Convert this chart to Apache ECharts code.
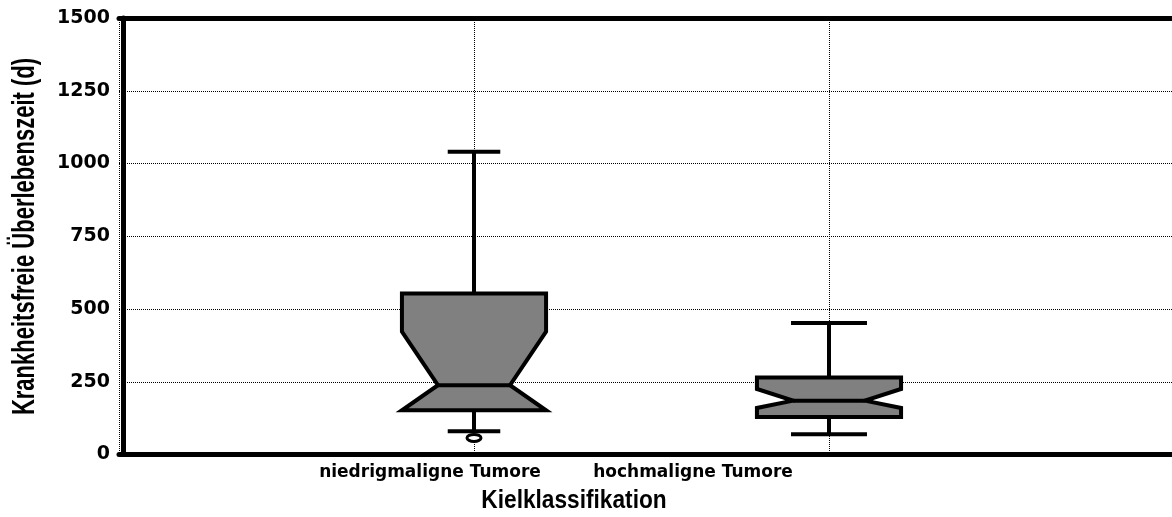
<!DOCTYPE html>
<html><head><meta charset="utf-8">
<script src="https://cdn.jsdelivr.net/npm/echarts@6/dist/echarts.min.js"></script>
<style>html,body{margin:0;padding:0;background:#fff}#c{width:1172px;height:517px}</style>
</head><body><div id="c"></div>
<script>
// ---- data ----
const categories = ['niedrigmaligne Tumore', 'hochmaligne Tumore'];
const whiskerLow = [80, 70];
const q1 = [152, 129];
const notchLow = [152, 160];
const median = [238, 185];
const notchHigh = [422, 225];
const q3 = [553, 265];
const whiskerHigh = [1040, 452];
const outliers = [[57], []];
const yTicks = [0, 250, 500, 750, 1000, 1250, 1500];
const xTitle = 'Kielklassifikation';
const yTitle = 'Krankheitsfreie Überlebenszeit (d)';

// ---- layout / style ----
const GRID_LEFT = 119, UNIT_PX = 355, CHART_W = 1172;
const X_MAX = (CHART_W - GRID_LEFT) / UNIT_PX;
const BOX_HALF = 0.203, NOTCH_RATIO = 0.5, CAP_HALF = [0.074, 0.107];
const LABEL_SHIFT = [44, 136];
const LINE_W = 4;

const chart = echarts.init(document.getElementById('c'), null, {renderer: 'canvas'});
const boxData = categories.map((c, i) => [i + 1, whiskerLow[i], q1[i], notchLow[i], median[i], notchHigh[i], q3[i], whiskerHigh[i]]);
const outlierData = [];
outliers.forEach((arr, i) => arr.forEach(v => outlierData.push([i + 1, v])));

function renderBox(params, api) {
  const i = params.dataIndex;
  const x = api.value(0);
  const wl = api.value(1), lq = api.value(2), nl = api.value(3), md = api.value(4),
        nh = api.value(5), uq = api.value(6), wh = api.value(7);
  const c = (xv, yv) => api.coord([xv, yv]);
  const h = BOX_HALF, hn = BOX_HALF * NOTCH_RATIO, ch = CAP_HALF[i];
  const lineStyle = {stroke: '#000', lineWidth: LINE_W, fill: null};
  const poly = [
    c(x - h, uq), c(x + h, uq), c(x + h, nh), c(x + hn, md), c(x + h, nl), c(x + h, lq),
    c(x - h, lq), c(x - h, nl), c(x - hn, md), c(x - h, nh)
  ];
  const ln = (a, b) => ({type: 'line', shape: {x1: a[0], y1: a[1], x2: b[0], y2: b[1]}, style: lineStyle});
  return {
    type: 'group',
    children: [
      ln(c(x, uq), c(x, wh)),
      ln(c(x, lq), c(x, wl)),
      ln(c(x - ch, wh), c(x + ch, wh)),
      ln(c(x - ch, wl), c(x + ch, wl)),
      {type: 'polygon', shape: {points: poly}, style: {fill: '#808080', stroke: '#000', lineWidth: LINE_W, lineJoin: 'miter'}},
      ln(c(x - hn, md), c(x + hn, md))
    ]
  };
}

function renderOutlier(params, api) {
  const p = api.coord([api.value(0), api.value(1)]);
  return {type: 'ellipse', shape: {cx: p[0], cy: p[1], rx: 7, ry: 3.5},
          style: {fill: '#fff', stroke: '#000', lineWidth: 3}};
}

const labelFont = {fontFamily: 'DejaVu Sans', fontWeight: 'bold', fontSize: 17, color: '#000'};

const option = {
  backgroundColor: '#fff',
  animation: false,
  grid: {left: GRID_LEFT, top: 18, bottom: 62.5, right: 0, containLabel: false},
  xAxis: [{
    type: 'value', min: 0, max: X_MAX, interval: 1,
    axisLine: {show: true, onZero: false, lineStyle: {color: '#000', width: 5}},
    axisTick: {show: false},
    splitLine: {show: true, lineStyle: {type: 'dotted', color: '#000', width: 1}},
    axisLabel: {
      margin: 10,
      showMaxLabel: false,
      formatter: v => (v === 1 || v === 2) ? '{a' + v + '|' + categories[v - 1] + '}' : '',
      rich: {
        a1: Object.assign({padding: [0, LABEL_SHIFT[0] * 2, 0, 0]}, labelFont),
        a2: Object.assign({padding: [0, LABEL_SHIFT[1] * 2, 0, 0]}, labelFont)
      }
    }
  }, {
    type: 'value', position: 'top', min: 0, max: X_MAX,
    axisLine: {show: true, onZero: false, lineStyle: {color: '#000', width: 5}},
    axisTick: {show: false}, axisLabel: {show: false}, splitLine: {show: false}
  }],
  yAxis: {
    type: 'value', min: yTicks[0], max: yTicks[yTicks.length - 1], interval: yTicks[1] - yTicks[0],
    offset: -4,
    axisLine: {show: true, onZero: false, lineStyle: {color: '#000', width: 5}},
    axisTick: {show: false},
    splitLine: {show: true, lineStyle: {type: 'dotted', color: '#000', width: 1}},
    axisLabel: {margin: 13, fontFamily: 'DejaVu Sans', fontWeight: 'bold', fontSize: 19, color: '#000',
                formatter: v => String(v)}
  },
  graphic: [
    {type: 'text', x: 25, y: 236.5, rotation: Math.PI / 2, scaleX: 0.688,
     style: {text: yTitle, font: 'bold 32px "Liberation Sans"', fill: '#000', align: 'center', verticalAlign: 'middle'}},
    {type: 'text', x: 574, y: 501, scaleX: 0.907,
     style: {text: xTitle, font: 'bold 25px "Liberation Sans"', fill: '#000', align: 'center', verticalAlign: 'middle'}}
  ],
  series: [
    {type: 'custom', renderItem: renderBox, data: boxData, encode: {x: 0, y: [1, 2, 3, 4, 5, 6, 7]}, z: 5},
    {type: 'custom', renderItem: renderOutlier, data: outlierData, encode: {x: 0, y: 1}, z: 6}
  ]
};
chart.setOption(option);
</script>
</body></html>
